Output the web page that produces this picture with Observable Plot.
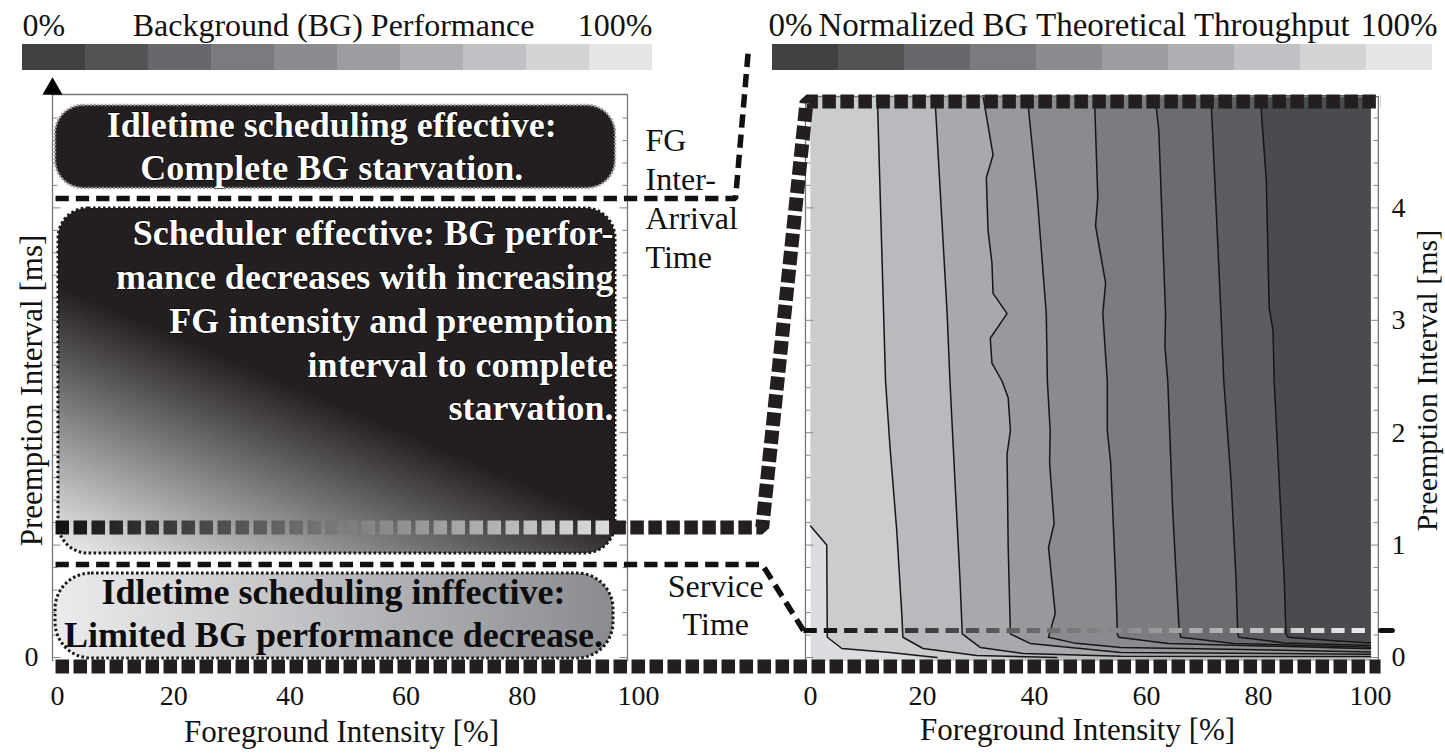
<!DOCTYPE html>
<html><head><meta charset="utf-8">
<script src="https://cdn.jsdelivr.net/npm/d3@7"></script>
<script src="https://cdn.jsdelivr.net/npm/@observablehq/plot@0.6"></script>
<style>
html,body{margin:0;padding:0;background:#fff;}
#wrap{position:relative;width:1445px;height:753px;overflow:hidden;}
#wrap > div{position:absolute;}
</style></head><body><div id="wrap"></div>
<script>
// ---------------- data ----------------
const legendLevels = [0,1,2,3,4,5,6,7,8,9];
const legendGreys = ["#414141","#535456","#67686b","#7a7b7f","#8b8c90","#9c9da1","#aeafb3","#c1c2c5","#d3d4d6","#e5e5e7"];
const bandGreys = ["#dcdde0","#cbccce","#b9babd","#a8a9ac","#99999d","#8a8b8e","#7b7c80","#6b6c6f","#5c5d60","#4a4b4e"];
const xTicks = [0,20,40,60,80,100];
const yTicksRight = [0,1,2,3,4];
const yTicksLeft = [0];
const minorTicks = [0,0.2,0.4,0.6,0.8,1,1.2,1.4,1.6,1.8,2,2.2,2.4,2.6,2.8,3,3.2,3.4,3.6,3.8,4,4.2,4.4,4.6,4.8];

// contour lines of normalized BG throughput: [FG intensity %, preemption interval ms]
const c90 = [[0,1.17],[2.9,1.0],[3.0,0.18],[5.6,0.08],[14.2,0.045],[22.6,0]];
const c80 = [[11.8,5],[12.0,4.88],[13.4,2.46],[14.2,1.87],[15.4,1.13],[16.3,0.39],[16.5,0.18],[20.1,0.08],[29.7,0.018],[44,0]];
const c70 = [[22.2,5],[24.4,3.06],[24.9,2.46],[25.8,1.57],[26.7,0.69],[27.1,0.21],[30.3,0.09],[38.0,0.035],[55.4,0.012],[100,0.008]];
const c60 = [[30.8,5],[32.6,4.47],[31.4,4.27],[31.7,3.8],[32.4,3.51],[32.6,3.24],[35.1,3.06],[32.1,2.84],[32.4,2.62],[34.2,2.46],[35.3,2.31],[35.7,2.02],[35.1,1.81],[35.3,0.98],[35.7,0.21],[39.2,0.125],[55.4,0.045],[100,0.03]];
const c50 = [[38.7,5],[40.5,4.09],[42.1,3.06],[42.3,2.46],[42.8,2.02],[42.7,1.73],[43.5,1.19],[42.5,0.98],[43.7,0.39],[42.5,0.18],[47.0,0.13],[55.4,0.09],[100,0.05]];
const c40 = [[50.7,5],[51.3,4.09],[50.9,3.84],[52.7,3.33],[52.2,3.06],[53.0,2.46],[53.0,2.02],[53.6,1.73],[54.5,0.69],[54.8,0.21],[55.0,0.18],[63.8,0.125],[100,0.078]];
const c30 = [[61.5,5],[62.2,4.69],[63.4,3.06],[63.3,2.76],[63.8,2.46],[64.7,1.28],[65.8,0.27],[66.1,0.18],[75.6,0.125],[100,0.092]];
const c20 = [[71.5,5],[73.3,3.06],[73.8,2.46],[75.1,1.57],[76.0,0.69],[76.3,0.21],[76.5,0.18],[84.6,0.13],[100,0.107]];
const c10 = [[80.3,5],[81.4,4.24],[81.9,3.11],[82.6,2.91],[82.8,2.46],[83.7,1.57],[84.6,0.69],[84.9,0.21],[85.3,0.18],[93.5,0.15],[100,0.13]];
const contours = [c90,c80,c70,c60,c50,c40,c30,c20,c10];

// levels (ms) of the schematic regions / mapping lines
const FG_INTERARRIVAL = 4.084;
const SERVICE_TIME = 0.827;
const MAP_LEVEL = 1.157;
const RIGHT_LEVEL = 0.24;

const topBoxLines = ["Idletime scheduling effective:", "Complete BG starvation."];
const midBoxLines = ["Scheduler effective: BG perfor-", "mance decreases with increasing", "FG intensity and preemption", "interval to complete", "starvation."];
const lowBoxLines = ["Idletime scheduling inffective:", "Limited BG performance decrease."];
const fgLabel = ["FG", "Inter-", "Arrival", "Time"];
const svcLabel = ["Service", "Time"];

// ---------------- layout config ----------------
const LX0 = 57, LX1 = 638;     // left panel pixel positions of 0% / 100%
const RX0 = 810, RX1 = 1370;   // right panel pixel positions of 0% / 100%
const LPX = (LX1 - LX0) / 100, RPX = (RX1 - RX0) / 100;
const RX = v => ((RX0 - LX0) + v * RPX) / LPX;            // right-panel % -> shared x units
const FILL_BOTTOM = -0.03;
const FONT = "'Liberation Serif','Times New Roman',serif";

// band polygons (region to the right of / above each contour)
const bandPolys = [];
[[0,FILL_BOTTOM],[100,FILL_BOTTOM],[100,5],[0,5]].forEach(([x,y]) => bandPolys.push({band:0,x,y}));
contours.forEach((pts, i) => {
  const poly = pts.map(p => p.slice());
  const [xe, ye] = pts[pts.length-1];
  if (ye <= 0) { poly[poly.length-1][1] = FILL_BOTTOM; poly.push([100, FILL_BOTTOM]); }
  poly.push([100, 5]);
  if (pts[0][1] < 5) poly.push([0, 5]);
  poly.forEach(([x,y]) => bandPolys.push({band: i+1, x, y}));
});
const contourPts = [];
contours.forEach((pts, i) => pts.forEach(([x,y]) => contourPts.push({k:i, x, y})));

// gradient definitions (drawn via the plot's own scales)
function gradients(index, scales) {
  const ns = "http://www.w3.org/2000/svg";
  const defs = document.createElementNS(ns, "defs");
  const add = (id, a, b, stops) => {
    const g = document.createElementNS(ns, "linearGradient");
    g.setAttribute("id", id);
    g.setAttribute("gradientUnits", "userSpaceOnUse");
    g.setAttribute("x1", scales.x(a[0])); g.setAttribute("y1", scales.y(a[1]));
    g.setAttribute("x2", scales.x(b[0])); g.setAttribute("y2", scales.y(b[1]));
    stops.forEach(([o, c]) => {
      const s = document.createElementNS(ns, "stop");
      s.setAttribute("offset", o); s.setAttribute("stop-color", c);
      g.appendChild(s);
    });
    defs.appendChild(g);
  };
  add("gMid", [0, 0.934], [16.5, 2.945], [[0, "#eeeef0"], [1, "#231f20"]]);
  add("gLow", [-0.34, 0.4], [95.7, 0.4], [[0, "#ececee"], [1, "#8a8b8f"]]);
  add("gSq", [-0.34, MAP_LEVEL], [95.5, MAP_LEVEL], [[0, "#111111"], [1, "#dedede"]]);
  add("gDash", [RX(-1.25), RIGHT_LEVEL], [RX(100), RIGHT_LEVEL], [[0, "#0d0d0d"], [1, "#eeeeee"]]);
  return defs;
}

const isMajor = d => Math.abs(d - Math.round(d)) < 1e-6;
const thick = {stroke: "#231f20", strokeWidth: 14, strokeDasharray: "13.5 4.5", strokeLinecap: "butt", strokeLinejoin: "miter"};
const thin = {stroke: "#111", strokeWidth: 5.5, strokeDasharray: "13.3 7", strokeLinecap: "butt", strokeLinejoin: "miter"};

const chart = Plot.plot({
  width: 1445, height: 753,
  marginLeft: 52, marginRight: 67, marginTop: 94, marginBottom: 87,
  x: {domain: [0, 100], range: [LX0, LX1], axis: null},
  y: {domain: [0, 5], range: [657, 95], axis: null},
  color: {type: "ordinal", domain: bandGreys.map((_, i) => i), range: bandGreys},
  style: {fontFamily: FONT, fontSize: "28px", color: "#111", background: "none", overflow: "visible"},
  marks: [
    gradients,
    // right panel: filled contour bands + contour lines
    Plot.line(bandPolys, {x: d => RX(d.x), y: "y", z: "band", fill: "band", stroke: "none", curve: "linear"}),
    Plot.line(contourPts, {x: d => RX(d.x), y: "y", z: "k", stroke: "#161616", strokeWidth: 1.5}),
    // right panel frame + ticks
    Plot.line([[-0.9,-0.045],[-0.9,4.99],[101.4,4.99],[101.4,-0.045]], {x: d => RX(d[0]), y: d => d[1], stroke: "#777", strokeWidth: 1.3}),
    Plot.link(minorTicks, {x1: RX(-0.9), x2: d => RX(-0.9 + (isMajor(d) ? 8 : 5) / RPX), y1: d => d, y2: d => d, stroke: "#888", strokeWidth: 1}),
    Plot.link(minorTicks, {x1: RX(101.4), x2: d => RX(101.4 - (isMajor(d) ? 8 : 5) / RPX), y1: d => d, y2: d => d, stroke: "#888", strokeWidth: 1}),
    // left panel frame + ticks
    Plot.line([[-0.86,-0.03],[-0.86,5.009],[98.1,5.009],[98.1,-0.03]], {x: d => d[0], y: d => d[1], stroke: "#777", strokeWidth: 1.3}),
    Plot.link(minorTicks, {x1: -0.86, x2: d => -0.86 + (isMajor(d) ? 8 : 5) / LPX, y1: d => d, y2: d => d, stroke: "#888", strokeWidth: 1}),
    Plot.link(minorTicks, {x1: 98.1, x2: d => 98.1 - (isMajor(d) ? 8 : 5) / LPX, y1: d => d, y2: d => d, stroke: "#888", strokeWidth: 1}),
    // schematic regions
    Plot.rect([0], {x1: -0.34, x2: 96.04, y1: 4.173, y2: 4.911, rx: 28, fill: "#231f20", stroke: "#9a9a9a", strokeWidth: 2.5, strokeDasharray: "2 1.6"}),
    Plot.rect([0], {x1: 0.17, x2: 96.04, y1: 0.925, y2: 3.995, rx: 30, fill: "url(#gMid)", stroke: "#1a1a1a", strokeWidth: 3, strokeDasharray: "2.6 2.4"}),
    Plot.rect([0], {x1: -0.34, x2: 95.7, y1: -0.009, y2: 0.747, rx: 36, fill: "url(#gLow)", stroke: "#1a1a1a", strokeWidth: 3, strokeDasharray: "2.6 2.4"}),
    Plot.text([topBoxLines.join("\n")], {x: 47.2, y: 4.244, lineAnchor: "bottom", lineHeight: 1.2, fontSize: 36, fontWeight: "bold", fill: "#fff", stroke: "#000", strokeWidth: 1.2}),
    Plot.text([midBoxLines.join("\n")], {x: 95.7, y: 2.109, textAnchor: "end", lineAnchor: "bottom", lineHeight: 1.215, fontSize: 36, fontWeight: "bold", fill: "#fff", stroke: "#000", strokeWidth: 1.2}),
    Plot.text([lowBoxLines.join("\n")], {x: 47.5, y: 0.089, lineAnchor: "bottom", lineHeight: 1.22, fontSize: 36, fontWeight: "bold", fill: "#0d0d0d"}),
    // mapping lines
    Plot.line([[-0.34, FG_INTERARRIVAL],[116.7, FG_INTERARRIVAL],[118.9, 5.40]], {x: d => d[0], y: d => d[1], ...thin}),
    Plot.line([[-0.34, SERVICE_TIME],[121.3, SERVICE_TIME],[RX(-1.25), RIGHT_LEVEL]], {x: d => d[0], y: d => d[1], ...thin}),
    Plot.line([[RX(-1.25), RIGHT_LEVEL],[RX(100), RIGHT_LEVEL]], {x: d => d[0], y: d => d[1], ...thin, stroke: "url(#gDash)", strokeWidth: 5}),
    Plot.line([[RX(101.8), RIGHT_LEVEL],[RX(103.9), RIGHT_LEVEL]], {x: d => d[0], y: d => d[1], stroke: "#111", strokeWidth: 5}),
    Plot.line([[-0.34, MAP_LEVEL],[95.5, MAP_LEVEL]], {x: d => d[0], y: d => d[1], ...thick, stroke: "url(#gSq)"}),
    Plot.line([[95.5, MAP_LEVEL],[121.3, MAP_LEVEL],[RX(-0.7), 4.947],[RX(101.8), 4.947]], {x: d => d[0], y: d => d[1], ...thick}),
    Plot.line([[-0.34, -0.08],[RX(101.8), -0.08]], {x: d => d[0], y: d => d[1], ...thick}),
    // annotations
    Plot.text([fgLabel.join("\n")], {x: 101.2, y: 3.461, textAnchor: "start", lineAnchor: "bottom", lineHeight: 1.22, fontSize: 32, fill: "#111"}),
    Plot.text([svcLabel.join("\n")], {x: 113.3, y: 0.196, textAnchor: "middle", lineAnchor: "bottom", lineHeight: 1.19, fontSize: 32, fill: "#111"}),
    Plot.dot([0], {x: -0.86, y: 5.058, symbol: "triangle", r: 7.5, fill: "#000", stroke: "none"}),
    // axes
    Plot.text(xTicks, {x: d => d, text: d => String(d), frameAnchor: "bottom", lineAnchor: "top", dy: 19, fontSize: 28, fill: "#111"}),
    Plot.text(xTicks, {x: d => RX(d), text: d => String(d), frameAnchor: "bottom", lineAnchor: "top", dy: 19, fontSize: 28, fill: "#111"}),
    Plot.text(yTicksLeft, {y: d => d, text: d => String(d), frameAnchor: "left", textAnchor: "end", dx: -14, fontSize: 28, fill: "#111"}),
    Plot.text(yTicksRight, {y: d => d, text: d => String(d), frameAnchor: "right", textAnchor: "start", dx: 13, fontSize: 28, fill: "#111"}),
    Plot.text(["Foreground Intensity [%]"], {x: 48.9, y: -0.756, lineAnchor: "bottom", fontSize: 31, fill: "#111"}),
    Plot.text(["Foreground Intensity [%]"], {x: RX(47.7), y: -0.738, lineAnchor: "bottom", fontSize: 31, fill: "#111"}),
    Plot.text(["Preemption Interval [ms]"], {x: -4.3, y: 2.375, rotate: -90, lineAnchor: "middle", fontSize: 31, fill: "#111"}),
    Plot.text(["Preemption Interval [ms]"], {x: RX(110.2), y: 2.464, rotate: -90, lineAnchor: "middle", fontSize: 30, fill: "#111"})
  ]
});

function legend(title, width, ml, mr, opts) {
  return Plot.plot({
    width, height: 70, marginTop: 44, marginBottom: 0, marginLeft: ml, marginRight: mr,
    x: {type: "band", domain: legendLevels, padding: 0, axis: null},
    color: {type: "ordinal", domain: legendLevels, range: legendGreys},
    style: {fontFamily: FONT, fontSize: opts.fs + "px", color: "#111", background: "none", overflow: "visible"},
    marks: [
      Plot.cell(legendLevels, {x: d => d, fill: d => d}),
      Plot.text(["0%"], {frameAnchor: "top-left", textAnchor: "start", lineAnchor: "bottom", dy: -9, dx: opts.dx0, fontSize: opts.fs}),
      Plot.text([title], {frameAnchor: opts.titleAnchor, textAnchor: opts.titleText, lineAnchor: "bottom", dy: -9, dx: opts.dxT, fontSize: opts.fs}),
      Plot.text(["100%"], {frameAnchor: "top-right", textAnchor: "end", lineAnchor: "bottom", dy: -9, dx: opts.dx1, fontSize: opts.fs})
    ]
  });
}

const wrap = document.getElementById("wrap");
function place(node, left, top) {
  const d = document.createElement("div");
  d.style.left = left + "px"; d.style.top = top + "px";
  d.appendChild(node); wrap.appendChild(d);
}
place(chart, 0, 0);
place(legend("Background (BG) Performance", 630, 0, 0, {fs: 32, dx0: 0, dx1: 0, dxT: -4, titleAnchor: "top", titleText: "middle"}), 22, 0);
place(legend("Normalized BG Theoretical Throughput", 669, 4, 5, {fs: 33, dx0: -4, dx1: 5, dxT: 46, titleAnchor: "top-left", titleText: "start"}), 768, 0);
</script></body></html>
